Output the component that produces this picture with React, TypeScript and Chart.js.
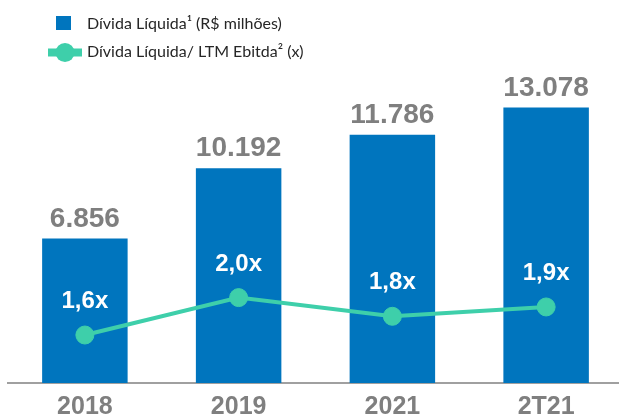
import React, { useEffect, useRef } from "react";
import { Chart, registerables } from "chart.js";

Chart.register(...registerables);

const categories = ["2018", "2019", "2021", "2T21"];
const netDebt = [6856, 10192, 11786, 13078];
const leverage = [1.6, 2.0, 1.8, 1.9];
const legendLabels = ["Dívida Líquida¹ (R$ milhões)", "Dívida Líquida/ LTM Ebitda² (x)"];

const BAR_COLOR = "#0075BE";
const LINE_COLOR = "#3ECFAA";
const GRAY = "#7F7F7F";

function fmtThousands(v: number): string {
  const s = Math.round(v).toString();
  return s.replace(/\B(?=(\d{3})+(?!\d))/g, ".");
}
function fmtRatio(v: number): string {
  return v.toFixed(1).replace(".", ",") + "x";
}

const labelPlugin = {
  id: "customLabels",
  afterDatasetsDraw(chart: any) {
    const ctx = chart.ctx;
    ctx.save();
    const barMeta = chart.getDatasetMeta(1);
    ctx.textAlign = "center";
    ctx.textBaseline = "alphabetic";
    ctx.font = "bold 28px 'Liberation Sans', Arial, sans-serif";
    ctx.fillStyle = GRAY;
    barMeta.data.forEach((el: any, i: number) => {
      ctx.fillText(fmtThousands(netDebt[i]), el.x, el.y - 12);
    });
    const lineMeta = chart.getDatasetMeta(0);
    ctx.font = "bold 24px 'Liberation Sans', Arial, sans-serif";
    ctx.fillStyle = "#FFFFFF";
    lineMeta.data.forEach((el: any, i: number) => {
      ctx.fillText(fmtRatio(leverage[i]), el.x, el.y - 27);
    });
    ctx.restore();
  },
  afterDraw(chart: any) {
    const ctx = chart.ctx;
    ctx.save();
    ctx.fillStyle = BAR_COLOR;
    ctx.fillRect(56, 16, 15, 14);
    ctx.font = "16px Lato, 'Open Sans', sans-serif";
    ctx.fillStyle = "#262626";
    ctx.textAlign = "left";
    ctx.textBaseline = "middle";
    ctx.fillText(legendLabels[0], 87, 24);
    ctx.strokeStyle = LINE_COLOR;
    ctx.lineWidth = 8;
    ctx.beginPath();
    ctx.moveTo(48, 52.5);
    ctx.lineTo(82, 52.5);
    ctx.stroke();
    ctx.fillStyle = LINE_COLOR;
    ctx.beginPath();
    ctx.arc(65, 52.5, 9.5, 0, Math.PI * 2);
    ctx.fill();
    ctx.fillStyle = "#262626";
    ctx.fillText(legendLabels[1], 87, 52);
    ctx.restore();
  },
};

export default function App() {
  const ref = useRef<HTMLCanvasElement | null>(null);
  useEffect(() => {
    if (!ref.current) return;
    const chart = new Chart(ref.current, {
      type: "bar",
      data: {
        labels: categories,
        datasets: [
          {
            type: "line",
            label: legendLabels[1],
            data: leverage,
            yAxisID: "y1",
            borderColor: LINE_COLOR,
            backgroundColor: LINE_COLOR,
            borderWidth: 4,
            pointRadius: 9,
            pointBorderWidth: 1,
            pointBackgroundColor: LINE_COLOR,
            pointBorderColor: LINE_COLOR,
            tension: 0,
            order: 0,
          } as any,
          {
            type: "bar",
            label: legendLabels[0],
            data: netDebt,
            yAxisID: "y",
            backgroundColor: BAR_COLOR,
            borderWidth: 0,
            categoryPercentage: 1,
            barPercentage: 0.556,
            order: 1,
          } as any,
        ],
      },
      options: {
        animation: false,
        responsive: false,
        maintainAspectRatio: false,
        layout: { autoPadding: false, padding: { left: 8, right: 0, top: 46, bottom: 0 } },
        plugins: { legend: { display: false }, tooltip: { enabled: false } },
        scales: {
          x: {
            offset: true,
            grid: { display: false, drawTicks: false },
            border: { display: true, color: "#A0A0A0", width: 2 },
            ticks: {
              color: GRAY,
              padding: 9,
              font: { family: "'Liberation Sans', Arial, sans-serif", size: 25, weight: "bold" },
            },
          },
          y: { display: false, min: 0, max: 16000 },
          y1: { display: false, min: 1.087, max: 4.69 },
        },
      },
      plugins: [labelPlugin],
    });
    return () => chart.destroy();
  }, []);
  return (
    <div style={{ position: "fixed", left: 0, top: 0, width: 619, height: 416, overflow: "hidden", background: "#fff" }}>
      <canvas ref={ref} width={623} height={431} style={{ display: "block", width: 623, height: 431 }} />
    </div>
  );
}
